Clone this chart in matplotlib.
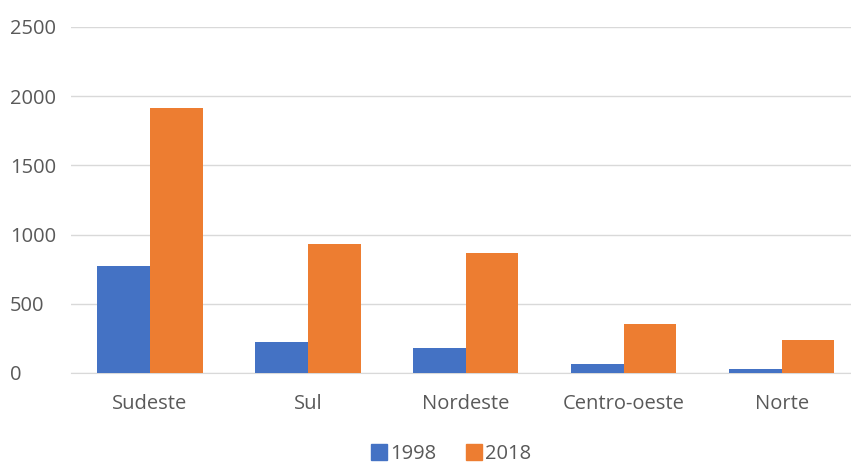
import numpy as np
import matplotlib
matplotlib.use("Agg")
import matplotlib.pyplot as plt
from matplotlib.patches import Patch

plt.rcParams['font.family'] = ['Open Sans', 'DejaVu Sans']

# Regional totals for the two survey years
regioes = ["Sudeste", "Sul", "Nordeste", "Centro-oeste", "Norte"]
anos = ["1998", "2018"]
valores_1998 = [770, 220, 178, 65, 27]
valores_2018 = [1912, 930, 865, 352, 238]

cor_1998 = "#4472C4"
cor_2018 = "#ED7D31"
cor_texto = "#595959"

fig = plt.figure(figsize=(8.51, 4.65), dpi=100)
ax = fig.add_axes([0.0834, 0.198, 0.928, 0.744])

x = np.arange(len(regioes))
w = 1 / 3
ax.bar(x - w / 2, valores_1998, width=w, color=cor_1998, zorder=3)
ax.bar(x + w / 2, valores_2018, width=w, color=cor_2018, zorder=3)

ax.set_xlim(-0.5, len(regioes) - 0.5)
ax.set_ylim(0, 2500)
ax.set_yticks(range(0, 2501, 500))
ax.yaxis.grid(True, color="#D9D9D9", linewidth=1, zorder=0)
ax.set_axisbelow(True)

for s in ["top", "right", "left"]:
    ax.spines[s].set_visible(False)
ax.spines["bottom"].set_color("#D9D9D9")

ax.set_xticks(x)
ax.set_xticklabels(regioes, fontsize=14.5, color=cor_texto)
ax.tick_params(axis="x", length=0, pad=15)
ax.tick_params(axis="y", length=0, labelsize=14.5, labelcolor=cor_texto, pad=44)
for lbl in ax.get_yticklabels():
    lbl.set_horizontalalignment("left")

handles = [Patch(color=cor_1998), Patch(color=cor_2018)]
fig.legend(handles, anos, loc="center", bbox_to_anchor=(0.53, 0.024),
           ncol=2, frameon=False, fontsize=14.5, labelcolor=cor_texto,
           handlelength=0.8, handleheight=0.8, handletextpad=0.15, columnspacing=1.5,
           borderpad=0.1)

fig.savefig("out.png", dpi=100, facecolor="white")
